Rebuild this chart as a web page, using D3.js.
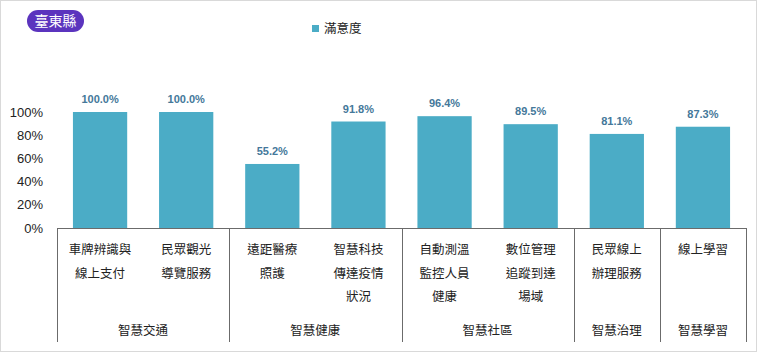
<!DOCTYPE html>
<html><head><meta charset="utf-8">
<script src="https://cdn.jsdelivr.net/npm/d3@7"></script>
<style>
html,body{margin:0;padding:0;background:#fff;}
svg{display:block;font-family:"Noto Sans CJK TC","Noto Sans",sans-serif;}
</style></head>
<body><div id="chart"></div>
<script>
const categories = [
  ["車牌辨識與","線上支付"],
  ["民眾觀光","導覽服務"],
  ["遠距醫療","照護"],
  ["智慧科技","傳達疫情","狀況"],
  ["自動測溫","監控人員","健康"],
  ["數位管理","追蹤到達","場域"],
  ["民眾線上","辦理服務"],
  ["線上學習"]
];
const groups = ["智慧交通","智慧交通","智慧健康","智慧健康","智慧社區","智慧社區","智慧治理","智慧學習"];
const values = [100.0, 100.0, 55.2, 91.8, 96.4, 89.5, 81.1, 87.3];
const yTicks = [0, 20, 40, 60, 80, 100];
const seriesName = "滿意度";
const title = "臺東縣";

const W = 757, H = 352;
const svg = d3.select("#chart").append("svg").attr("width", W).attr("height", H);
svg.append("rect").attr("x",0.5).attr("y",0.5).attr("width",W-1).attr("height",H-1)
  .attr("fill","#fff").attr("stroke","#d9d9d9");

const x = d3.scaleBand().domain(d3.range(categories.length)).range([57, 746]).paddingInner(0.37).paddingOuter(0.185);
const xb = d3.scaleBand().domain(d3.range(categories.length)).range([57, 746]);
const y = d3.scaleLinear().domain([0, 100]).range([228, 112]);

// y tick labels
svg.append("g").selectAll("text").data(yTicks).join("text")
  .attr("x", 43).attr("y", d => y(d)).attr("dy","0.35em")
  .attr("text-anchor","end").attr("font-size", 13).attr("fill","#222")
  .attr("font-family","Liberation Sans, Arial, sans-serif")
  .text(d => d + "%");

// bars
svg.append("g").selectAll("rect").data(values).join("rect")
  .attr("x", (d,i) => x(i)).attr("width", x.bandwidth())
  .attr("y", d => y(d)).attr("height", d => y(0) - y(d))
  .attr("fill", "#4bacc6");

// value labels
svg.append("g").selectAll("text").data(values).join("text")
  .attr("x", (d,i) => x(i) + x.bandwidth()/2).attr("y", d => y(d) - 9)
  .attr("text-anchor","middle").attr("font-size", 11).attr("font-weight","bold")
  .attr("fill","#44789a").attr("font-family","Liberation Sans, Arial, sans-serif")
  .text(d => d.toFixed(1) + "%");

// axis line
const axisColor = "#6b6b6b";
svg.append("line").attr("x1", xb.range()[0]).attr("x2", xb.range()[1])
  .attr("y1", y(0)+0.5).attr("y2", y(0)+0.5).attr("stroke", axisColor);

// group separators
const bounds = [0];
for (let i = 1; i < groups.length; i++) if (groups[i] !== groups[i-1]) bounds.push(i);
bounds.push(groups.length);
svg.append("g").selectAll("line").data(bounds).join("line")
  .attr("x1", i => Math.round(i < groups.length ? xb(i) : xb.range()[1]) + 0.5)
  .attr("x2", i => Math.round(i < groups.length ? xb(i) : xb.range()[1]) + 0.5)
  .attr("y1", y(0)).attr("y2", 342).attr("stroke", axisColor);

// category labels
const cl = svg.append("g");
categories.forEach((lines, i) => {
  lines.forEach((t, j) => {
    cl.append("text").attr("x", xb(i) + xb.bandwidth()/2).attr("y", 250 + j*23.5)
      .attr("dy","0.35em").attr("text-anchor","middle").attr("font-size", 12.5).attr("fill","#222")
      .text(t);
  });
});

// group labels
for (let k = 0; k < bounds.length - 1; k++) {
  const a = xb(bounds[k]), b = bounds[k+1] < groups.length ? xb(bounds[k+1]) : xb.range()[1];
  svg.append("text").attr("x", (a+b)/2).attr("y", 331).attr("dy","0.35em")
    .attr("text-anchor","middle").attr("font-size", 12.5).attr("fill","#222")
    .text(groups[bounds[k]]);
}

// legend
svg.append("rect").attr("x", 312).attr("y", 25).attr("width", 7).attr("height", 7).attr("fill","#4bacc6");
svg.append("text").attr("x", 324).attr("y", 29).attr("dy","0.35em").attr("font-size", 12.5).attr("fill","#222").text(seriesName);

// title badge
svg.append("rect").attr("x", 27).attr("y", 10).attr("width", 57).attr("height", 22).attr("rx", 11)
  .attr("fill", "#5b34be");
svg.append("text").attr("x", 55.5).attr("y", 21).attr("dy","0.36em").attr("text-anchor","middle")
  .attr("font-size", 14).attr("fill","#fff").text(title);
</script></body></html>
